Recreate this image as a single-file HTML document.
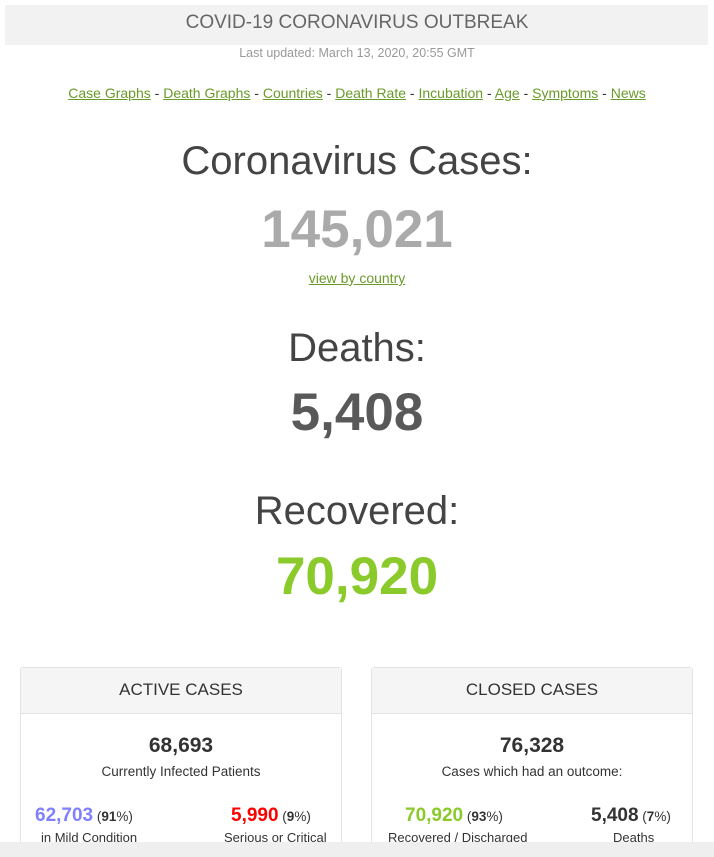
<!DOCTYPE html>
<html style="overflow:hidden;height:857px"><head><meta charset="utf-8"><style>
body{margin:0;width:714px;height:857px;overflow:hidden;background:#fff;font-family:"Liberation Sans",Arial,sans-serif;position:relative}
.a{position:absolute;left:0;width:714px;text-align:center;white-space:nowrap}
a{color:#6a9a29;text-decoration:underline}
.box{position:absolute;top:667px;width:320px;height:185px;border:1px solid #e3e3e3;border-bottom:none;border-radius:3px 3px 0 0;background:#fff}
.hd{height:45px;background:#f5f5f5;border-bottom:1px solid #e3e3e3;text-align:center;line-height:43px;font-size:17px;color:#333}
.in{position:absolute;white-space:nowrap}
</style></head><body>
<div style="position:absolute;left:5px;top:5px;width:703px;height:40px;background:#f2f2f2"></div>
<div class="a" style="top:12px;font-size:19px;color:#666">COVID-19 CORONAVIRUS OUTBREAK</div>
<div class="a" style="top:46px;font-size:12.5px;color:#999">Last updated: March 13, 2020, 20:55 GMT</div>
<div class="a" style="top:85px;font-size:14px;color:#333">
<a>Case Graphs</a> - <a>Death Graphs</a> - <a>Countries</a> - <a>Death Rate</a> - <a>Incubation</a> - <a>Age</a> - <a>Symptoms</a> - <a>News</a></div>
<div class="a" style="top:139px;font-size:40px;color:#444">Coronavirus Cases:</div>
<div class="a" style="top:199px;font-size:53px;font-weight:bold;color:#aaa">145,021</div>
<div class="a" style="top:270px;font-size:14px"><a>view by country</a></div>
<div class="a" style="top:326px;font-size:40px;color:#444">Deaths:</div>
<div class="a" style="top:382px;font-size:53px;font-weight:bold;color:#595959">5,408</div>
<div class="a" style="top:489px;font-size:40px;color:#444">Recovered:</div>
<div class="a" style="top:546px;font-size:53px;font-weight:bold;color:#8aca2b">70,920</div>

<div class="box" style="left:20px">
<div class="hd">ACTIVE CASES</div>
<div class="in" style="top:66px;left:0;width:320px;text-align:center;font-size:21px;font-weight:bold;color:#333">68,693</div>
<div class="in" style="top:96px;left:0;width:320px;text-align:center;font-size:13.5px;color:#333">Currently Infected Patients</div>
<div class="in" style="top:137px;left:14px;font-size:13.5px;color:#333"><b style="font-size:19px;color:#8080ff">62,703</b> (<b>91</b>%)</div>
<div class="in" style="top:162px;left:20px;font-size:13px;color:#333">in Mild Condition</div>
<div class="in" style="top:137px;left:210px;font-size:13.5px;color:#333"><b style="font-size:19px;color:#f00">5,990</b> (<b>9</b>%)</div>
<div class="in" style="top:162px;left:203px;font-size:13px;color:#333">Serious or Critical</div>
</div>

<div class="box" style="left:371px">
<div class="hd">CLOSED CASES</div>
<div class="in" style="top:66px;left:0;width:320px;text-align:center;font-size:21px;font-weight:bold;color:#333">76,328</div>
<div class="in" style="top:96px;left:0;width:320px;text-align:center;font-size:13.5px;color:#333">Cases which had an outcome:</div>
<div class="in" style="top:137px;left:33px;font-size:13.5px;color:#333"><b style="font-size:19px;color:#8aca2b">70,920</b> (<b>93</b>%)</div>
<div class="in" style="top:162px;left:16px;font-size:13px;color:#333">Recovered / Discharged</div>
<div class="in" style="top:137px;left:219px;font-size:13.5px;color:#333"><b style="font-size:19px;color:#333">5,408</b> (<b>7</b>%)</div>
<div class="in" style="top:162px;left:241px;font-size:13px;color:#333">Deaths</div>
</div>
<div style="position:absolute;left:0;top:842px;width:714px;height:15px;background:#efefef;z-index:5"></div>
</body></html>
